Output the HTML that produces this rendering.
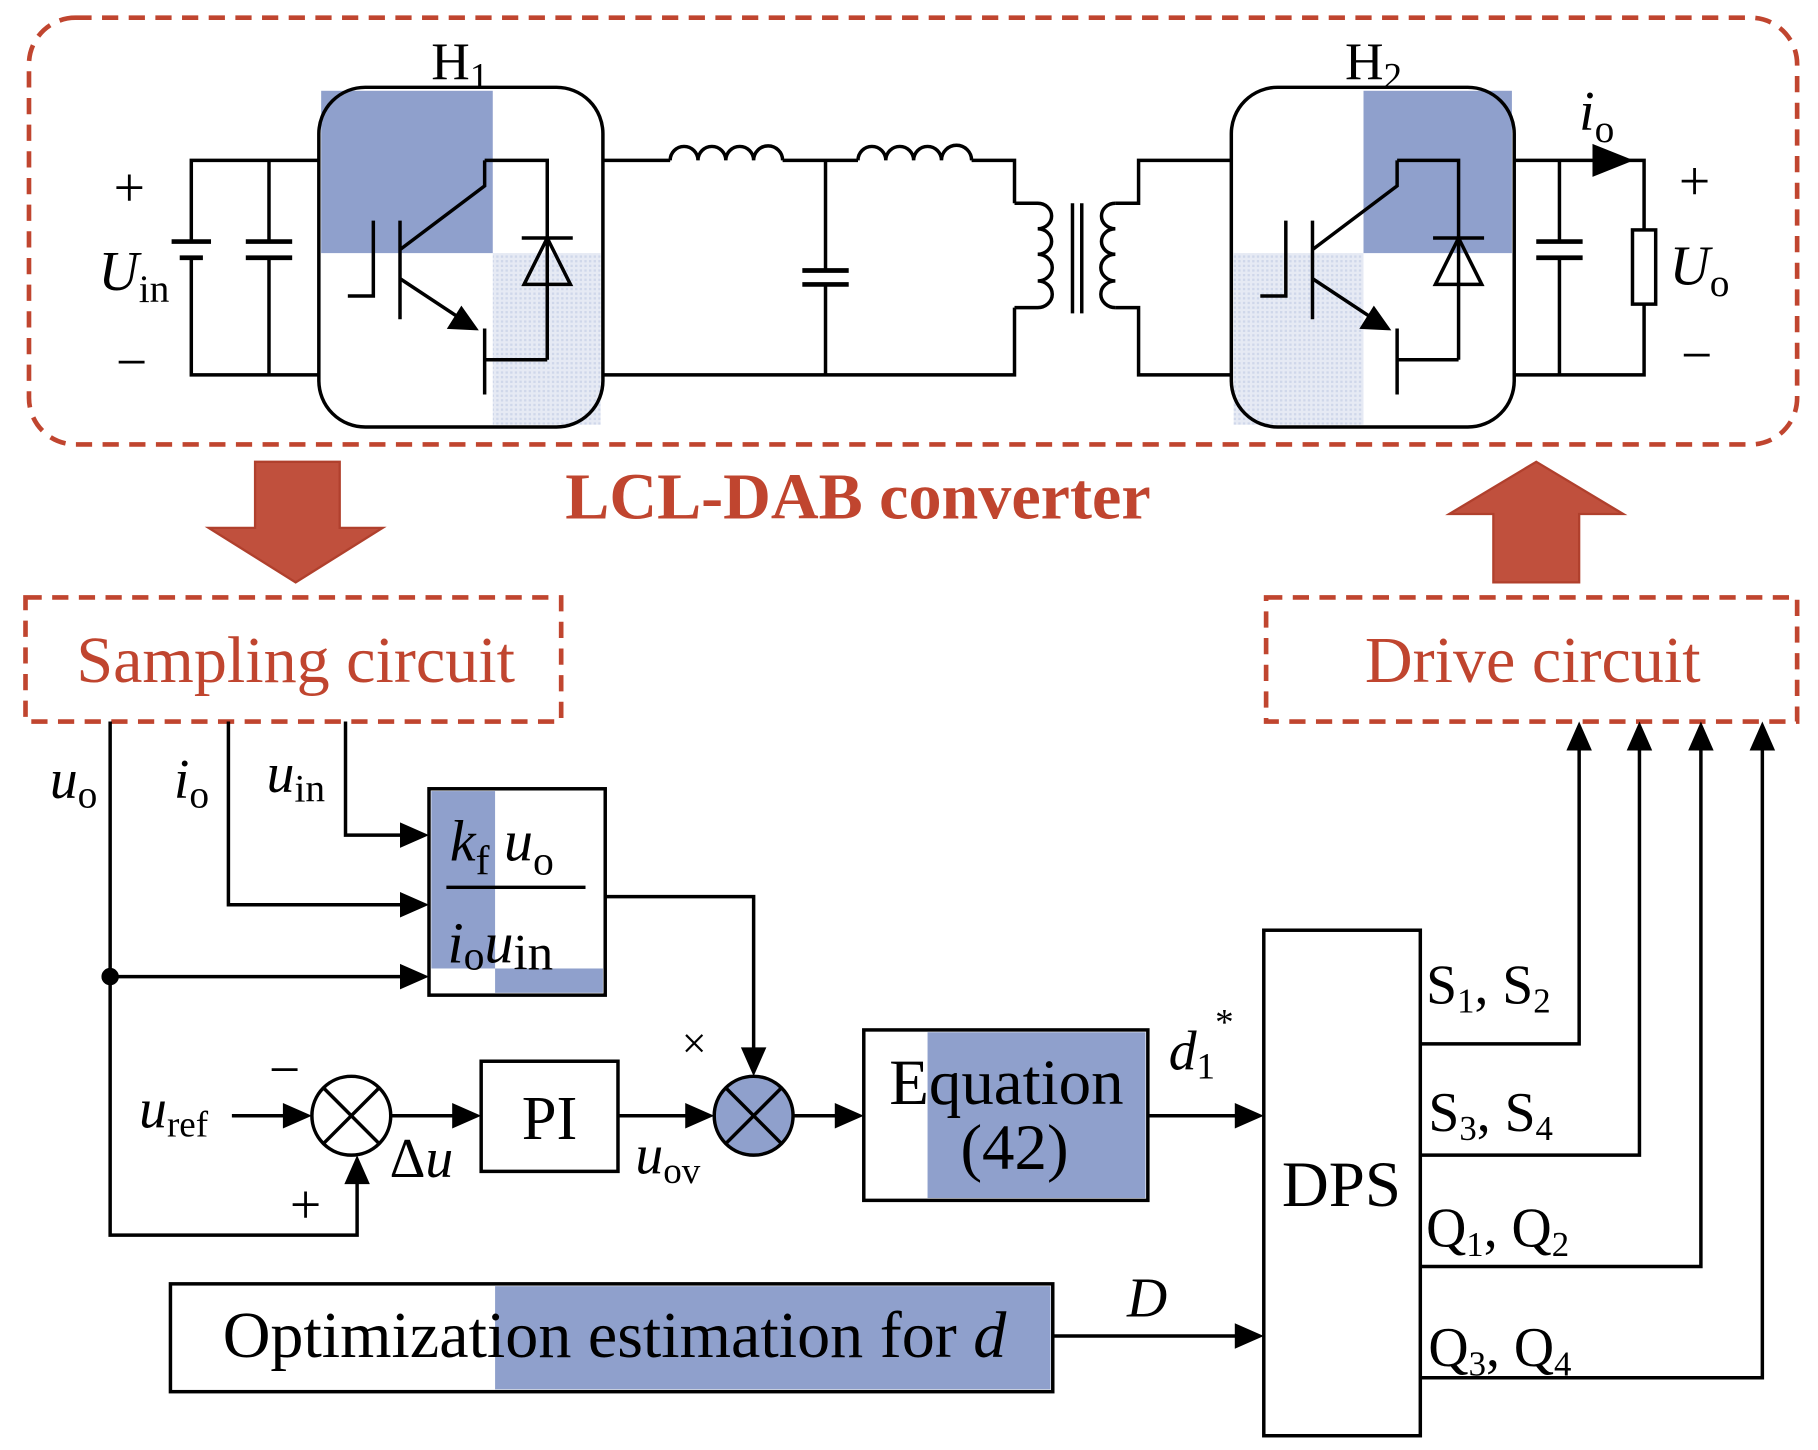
<!DOCTYPE html>
<html><head><meta charset="utf-8"><style>
html,body{margin:0;padding:0;background:#fff}
svg{display:block}
text{font-family:"Liberation Serif",serif;fill:#000}
</style></head><body>
<svg width="1818" height="1450" viewBox="0 0 1568 1250" xmlns="http://www.w3.org/2000/svg">
<defs>
<pattern id="dot" width="4" height="4" patternUnits="userSpaceOnUse"><rect width="4" height="4" fill="#e6eaf4"/><rect width="2" height="2" fill="#cfd7ea"/></pattern>
</defs>
<g fill="none" stroke="#000" stroke-width="3">
<rect x="25" y="15" width="1525" height="368" rx="40" stroke="#c0452f" stroke-width="4" stroke-dasharray="14,9"/>
<rect x="277" y="78" width="148" height="140" fill="#8fa0cc" stroke="none"/>
<rect x="425" y="218" width="93" height="148" fill="url(#dot)" stroke="none"/>
<rect x="275" y="75" width="245" height="293" rx="40"/>
<rect x="1176" y="78" width="128" height="140" fill="#8fa0cc" stroke="none"/>
<rect x="1064" y="218" width="112" height="148" fill="url(#dot)" stroke="none"/>
<rect x="1062" y="75" width="244" height="293" rx="40"/>
<path d="M275 138H165V208M165 222V323H275M232 138V208M232 222V323"/>
<path d="M148 208H182M155 222H175" stroke-width="4"/>
<path d="M212 208H252M212 222H252" stroke-width="4"/>
<path d="M345 190V275M300 255H322V190M345 215L418 160V138M418 138H472V310M418 283V340M418 310H472"/>
<path d="M345 240L410 283"/>
<path d="M410 283L388 282L398 266Z" fill="#000"/>
<path d="M452 245H492L472 205Z M450 205H494"/>
<path d="M520 138H578M675 138H740M838 138H875V175M520 323H875V265M712 138V233M712 245V323"/>
<path d="M578 138a12 12 0 0 1 24 0a12 12 0 0 1 24 0a12 12 0 0 1 24 0a12 12 0 0 1 25 0"/>
<path d="M740 138a12 12 0 0 1 24 0a12 12 0 0 1 24 0a12 12 0 0 1 24 0a12 12 0 0 1 26 0"/>
<path d="M692 233H732M692 245H732" stroke-width="4"/>
<path d="M875 175H895M875 265H895M895 175a12 11 0 0 1 0 22a12 11 0 0 1 0 22a12 11 0 0 1 0 23a12 11 0 0 1 0 23"/>
<path d="M925 175V270M933 175V270"/>
<path d="M962 175a12 11 0 0 0 0 22a12 11 0 0 0 0 22a12 11 0 0 0 0 23a12 11 0 0 0 0 23"/>
<path d="M962 175H982V138H1062M962 265H982V323H1062"/>
<path d="M1132 190V275M1087 255H1109V190M1132 215L1205 160V138M1205 138H1258V310M1205 283V340M1205 310H1258"/>
<path d="M1132 240L1197 283"/>
<path d="M1197 283L1175 282L1185 266Z" fill="#000"/>
<path d="M1238 245H1278L1258 205Z M1236 205H1280"/>
<path d="M1306 138H1418V198M1418 262V323H1306M1345 138V208M1345 222V323"/>
<path d="M1325 208H1365M1325 222H1365" stroke-width="4"/>
<rect x="1408" y="198" width="20" height="64"/>
<path d="M1375 126L1405 138L1375 150Z" fill="#000"/>
<path d="M220 398H293V455H330L255 502L180 455H220Z" fill="#c0503d" stroke="#b0402d" stroke-width="2"/>
<path d="M1288 502H1362V443H1400L1325 398L1250 443H1288Z" fill="#c0503d" stroke="#b0402d" stroke-width="2"/>
<rect x="22" y="515" width="462" height="107" stroke="#c0452f" stroke-width="4" stroke-dasharray="14,9"/>
<rect x="1092" y="515" width="458" height="107" stroke="#c0452f" stroke-width="4" stroke-dasharray="14,9"/>
<path d="M95 622V1065H308V1000M197 622V780H350M298 622V720H350M95 842H350"/>
<circle cx="95" cy="842" r="6" fill="#000"/>
<rect x="372" y="682" width="55" height="153" fill="#8fa0cc" stroke="none"/>
<rect x="427" y="835" width="93" height="21" fill="#8fa0cc" stroke="none"/>
<rect x="370" y="680" width="152" height="178"/>
<path d="M385 765H505"/>
<path d="M522 773H650V910"/>
<circle cx="303" cy="962" r="34"/>
<path d="M279 938L327 986M327 938L279 986"/>
<path d="M200 962H250M337 962H395M533 962H598M684 962H725M990 962H1072M908 1152H1072"/>
<rect x="415" y="915" width="118" height="95"/>
<circle cx="650" cy="962" r="34" fill="#8fa0cc"/>
<path d="M626 938L674 986M674 938L626 986"/>
<rect x="800" y="890" width="188" height="143" fill="#8fa0cc" stroke="none"/>
<rect x="745" y="888" width="245" height="147"/>
<rect x="1090" y="802" width="135" height="436"/>
<path d="M1225 900H1362V642M1225 996H1414V642M1225 1092H1467V642M1225 1188H1520V642"/>
<rect x="427" y="1109" width="479" height="89" fill="#8fa0cc" stroke="none"/>
<rect x="147" y="1107" width="761" height="93"/>
</g>
<g fill="#000">
<path d="M370 720L345 709V731Z M370 780L345 769V791Z M370 842L345 831V853Z"/>
<path d="M269 962L244 951V973Z M415 962L390 951V973Z M616 962L591 951V973Z M745 962L720 951V973Z M1090 962L1065 951V973Z M1090 1152L1065 1141V1163Z"/>
<path d="M650 928L639 903H661Z M308 996L297 1021H319Z"/>
<path d="M1362 622L1351 647H1373Z M1414 622L1403 647H1425Z M1467 622L1456 647H1478Z M1520 622L1509 647H1531Z"/>
</g>
<g font-size="48">
<text x="372" y="68" font-size="46">H<tspan font-size="32" dy="8">1</tspan></text>
<text x="1160" y="68" font-size="46">H<tspan font-size="32" dy="8">2</tspan></text>
<text x="98" y="178">+</text>
<text x="85" y="250" font-style="italic">U<tspan font-style="normal" font-size="34" dy="10">in</tspan></text>
<text x="100" y="328">−</text>
<text x="1362" y="112" font-style="italic">i<tspan font-style="normal" font-size="34" dy="10">o</tspan></text>
<text x="1448" y="172">+</text>
<text x="1440" y="245" font-style="italic">U<tspan font-style="normal" font-size="34" dy="10">o</tspan></text>
<text x="1450" y="322">−</text>
<text x="740" y="447" text-anchor="middle" font-weight="bold" font-size="57" style="fill:#c0452f">LCL-DAB converter</text>
<text x="255" y="588" text-anchor="middle" font-size="57" style="fill:#c0452f">Sampling circuit</text>
<text x="1322" y="588" text-anchor="middle" font-size="57" style="fill:#c0452f">Drive circuit</text>
<text x="43" y="688" font-style="italic">u<tspan font-style="normal" font-size="34" dy="8">o</tspan></text>
<text x="150" y="688" font-style="italic">i<tspan font-style="normal" font-size="34" dy="8">o</tspan></text>
<text x="230" y="683" font-style="italic">u<tspan font-style="normal" font-size="34" dy="8">in</tspan></text>
<text x="388" y="742" font-style="italic" font-size="50">k<tspan font-style="normal" font-size="36" dy="12">f</tspan><tspan dy="-12"> u</tspan><tspan font-style="normal" font-size="36" dy="12">o</tspan></text>
<text x="386" y="830" font-style="italic" font-size="50">i<tspan font-style="normal" font-size="36" dy="6">o</tspan><tspan dy="-6">u</tspan><tspan font-style="normal" font-size="44" dy="6">in</tspan></text>
<text x="120" y="972" font-style="italic">u<tspan font-style="normal" font-size="32" dy="8">ref</tspan></text>
<text x="232" y="938">−</text>
<text x="250" y="1055">+</text>
<text x="336" y="1015">Δ<tspan font-style="italic">u</tspan></text>
<text x="474" y="982" text-anchor="middle" font-size="54">PI</text>
<text x="548" y="1012" font-style="italic">u<tspan font-style="normal" font-size="32" dy="8">ov</tspan></text>
<text x="588" y="912" font-size="38">×</text>
<text x="868" y="952" text-anchor="middle" font-size="56">Equation</text>
<text x="875" y="1008" text-anchor="middle" font-size="56">(42)</text>
<text x="1008" y="922" font-style="italic">d<tspan font-style="normal" font-size="32" dy="8">1</tspan><tspan font-style="normal" font-size="32" dy="-38">*</tspan></text>
<text x="1157" y="1040" text-anchor="middle" font-size="56">DPS</text>
<text x="1230" y="865">S<tspan font-size="30" dy="8">1</tspan><tspan dy="-8">, S</tspan><tspan font-size="30" dy="8">2</tspan></text>
<text x="1232" y="975">S<tspan font-size="30" dy="8">3</tspan><tspan dy="-8">, S</tspan><tspan font-size="30" dy="8">4</tspan></text>
<text x="1230" y="1075">Q<tspan font-size="30" dy="8">1</tspan><tspan dy="-8">, Q</tspan><tspan font-size="30" dy="8">2</tspan></text>
<text x="1232" y="1178">Q<tspan font-size="30" dy="8">3</tspan><tspan dy="-8">, Q</tspan><tspan font-size="30" dy="8">4</tspan></text>
<text x="530" y="1170" text-anchor="middle" font-size="57">Optimization estimation for <tspan font-style="italic">d</tspan></text>
<text x="972" y="1135" font-style="italic">D</text>
</g>
</svg>
</body></html>
